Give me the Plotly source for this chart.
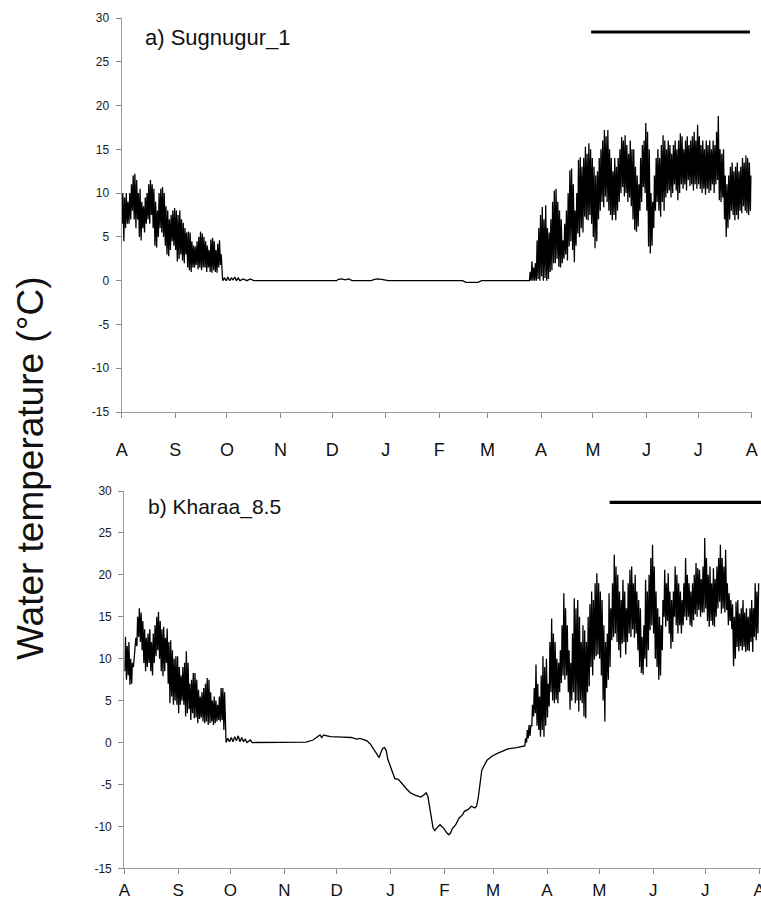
import pandas as pd
import plotly.graph_objects as go

W, H = 761, 899
START = pd.Timestamp("2012-08-01")

month_ticks = ["2012-08-01", "2012-09-01", "2012-10-01", "2012-11-01", "2012-12-01",
               "2013-01-01", "2013-02-01", "2013-03-01", "2013-04-01", "2013-05-01",
               "2013-06-01", "2013-07-01", "2013-08-01"]
month_labels = ["A", "S", "O", "N", "D", "J", "F", "M", "A", "M", "J", "J", "A"]
y_ticks = [-15, -10, -5, 0, 5, 10, 15, 20, 25, 30]
y_tick_labels = ["-15", "-10", "-5", "0", "5", "10", "15", "20", "25", "30"]

# ---------------- Panel a) Sugnugur_1 ----------------
# late summer: daily max / min from 2012-08-01 (day 0)
a_p1_start = 0
a_p1_hi = [10.0, 9.5, 10.0, 9.0, 10.0, 11.0, 12.0, 12.2, 11.5, 10.0,
           10.5, 9.0, 8.5, 9.5, 10.0, 11.0, 11.5, 11.0, 10.5, 9.0,
           8.0, 10.0, 10.5, 10.7, 10.0, 8.5, 8.0, 7.0, 7.5, 8.0,
           8.3, 8.0, 7.5, 8.0, 7.0, 6.6, 6.0, 5.5, 5.6, 5.5,
           4.5, 4.0, 3.9, 4.5, 5.0, 5.6, 5.4, 5.0, 4.5, 4.0,
           3.5, 4.7, 4.9, 4.5, 3.5, 4.2, 4.6, 3.0]
a_p1_lo = [6.5, 4.5, 6.0, 6.5, 6.5, 7.0, 8.0, 7.0, 6.0, 7.0,
           5.0, 4.6, 6.0, 5.5, 6.5, 7.0, 6.5, 7.5, 6.0, 4.0,
           3.8, 5.0, 6.0, 5.5, 5.0, 4.0, 3.0, 2.8, 3.5, 4.5,
           4.0, 3.5, 2.2, 2.5, 3.0, 2.3, 2.0, 3.0, 1.5, 1.2,
           1.0, 1.5, 1.5, 1.8, 1.3, 1.5, 1.2, 1.5, 1.5, 1.0,
           1.5, 1.0, 0.9, 1.2, 1.0, 0.9, 1.5, 1.8]
# winter (ice-covered) readings: day offset, value
a_w_day = [58, 59, 60, 61, 62, 63, 64, 65, 66, 67, 68, 70, 72, 74, 76, 78,
           124, 125, 127, 129, 131, 133, 144, 146, 148, 150, 152, 154,
           197, 199, 206, 208, 235]
a_w_val = [0.0, 0.3, 0.0, 0.4, 0.0, 0.3, 0.1, 0.4, 0.0, 0.3, 0.0, 0.2, 0.0, 0.2, 0.0, 0.0,
           0.0, 0.15, 0.2, 0.1, 0.2, 0.0, 0.0, 0.15, 0.2, 0.15, 0.1, 0.0,
           0.0, -0.2, -0.2, 0.0, 0.0]
# spring / summer: daily max / min from day 236
a_p2_start = 236
a_p2_hi = [1.0, 2.2, 1.5, 2.0, 4.6, 6.0, 7.5, 8.4, 7.0, 8.6,
           6.0, 5.5, 7.0, 9.0, 10.3, 10.5, 9.0, 8.0, 7.0, 4.6,
           6.5, 8.0, 10.0, 12.6, 12.8, 11.0, 8.0, 10.0, 13.8, 14.1,
           13.0, 14.0, 15.3, 14.5, 15.7, 15.0, 14.0, 13.0, 12.0, 12.5,
           14.0, 15.0, 16.0, 17.2, 16.5, 17.2, 15.0, 14.0, 12.5, 14.0,
           13.0, 14.0, 15.0, 16.4, 16.0, 16.6, 15.5, 14.5, 16.0, 15.0,
           15.0, 13.0, 12.0, 11.0, 14.0, 15.5, 16.0, 18.0, 17.0, 15.0,
           10.0, 9.0, 12.0, 14.0, 15.0, 14.0, 15.5, 16.6, 16.0, 15.0,
           16.0, 15.5, 14.5, 15.5, 16.0, 15.0, 16.0, 16.8, 16.5, 15.0,
           16.0, 16.5, 15.5, 16.0, 16.5, 17.0, 16.0, 17.8, 16.5, 15.5,
           16.0, 15.0, 16.0, 15.5, 16.0, 15.0, 16.0, 15.5, 17.0, 18.8,
           15.0, 14.5, 15.0, 12.0, 11.0, 12.0, 13.0, 13.5, 12.5, 13.0,
           13.5, 12.5, 13.0, 14.0, 13.5, 14.3, 14.0, 13.5, 12.0]
a_p2_lo = [0.0, 0.0, 0.0, 0.0, 0.0, 0.2, 0.0, 0.5, 0.0, 0.3,
           0.0, 0.2, 1.0, 1.2, 2.0, 2.0, 2.5, 1.6, 1.5, 2.0,
           2.5, 3.0, 2.3, 3.9, 4.5, 3.5, 2.1, 4.0, 5.4, 5.0,
           6.0, 5.5, 7.3, 7.0, 6.9, 7.5, 6.5, 5.0, 3.7, 4.5,
           7.0, 8.0, 9.0, 8.4, 9.6, 9.0, 8.0, 7.5, 6.9, 7.5,
           6.9, 8.0, 9.0, 10.0, 10.7, 9.6, 10.0, 9.0, 9.5, 8.5,
           7.0, 5.8, 5.6, 6.2, 8.0, 9.0, 10.7, 10.0, 8.0, 3.9,
           3.1, 4.0, 6.0, 8.0, 9.0, 8.0, 7.3, 9.0, 8.0, 9.5,
           10.0, 10.3, 9.5, 10.0, 11.0, 10.3, 9.2, 10.0, 11.0, 10.5,
           11.0, 10.3, 11.5, 10.8, 11.0, 10.3, 11.0, 10.5, 11.0, 10.5,
           10.0, 10.5, 9.8, 10.5, 10.0, 10.3, 11.0, 10.0, 11.0, 11.5,
           9.2, 9.0, 9.5, 7.0, 5.0, 6.0, 7.0, 8.0, 7.5, 6.9,
           7.5, 7.0, 8.0, 7.7, 8.5, 8.0, 7.7, 7.5, 8.0]

# ---------------- Panel b) Kharaa_8.5 ----------------
b_p1_start = 0
b_p1_hi = [12.6, 11.5, 12.0, 10.0, 9.5, 10.0, 12.5, 15.0, 16.0, 15.5,
           14.5, 13.5, 12.5, 13.0, 13.5, 12.0, 13.0, 14.0, 15.0, 15.6,
           14.5, 13.5, 13.8, 12.5, 13.6, 12.0, 12.2, 11.0, 10.0, 10.3,
           10.3, 9.0, 8.0, 9.0, 9.5, 10.9, 9.5, 7.0, 7.5, 8.3,
           8.3, 7.5, 6.3, 5.5, 6.0, 6.5, 7.0, 7.7, 7.5, 6.0,
           5.0, 5.5, 5.0, 4.5, 5.5, 6.5, 6.5, 6.0]
b_p1_lo = [8.5, 7.5, 8.0, 6.9, 7.0, 9.0, 10.5, 11.5, 12.6, 12.0,
           11.0, 9.5, 8.5, 9.0, 9.5, 8.5, 8.0, 9.5, 10.3, 11.0,
           10.0, 8.5, 7.9, 8.5, 9.5, 7.0, 4.7, 5.5, 4.5, 5.0,
           4.5, 3.5, 4.5, 5.0, 4.5, 3.1, 3.5, 4.0, 2.7, 3.5,
           2.9, 3.0, 2.3, 2.8, 3.0, 2.5, 2.3, 2.5, 2.1, 2.3,
           2.5, 2.1, 2.3, 2.5, 2.7, 2.5, 2.7, 1.5]
b_w_day = [58, 59, 60, 61, 62, 63, 64, 65, 66, 67, 68, 69, 70, 72, 73, 85, 100,
           104, 108, 111, 112, 113, 114, 116, 118, 125, 130, 133, 135, 137, 139,
           141, 143, 145, 146, 147, 148, 149, 150, 151, 153, 155, 157, 158, 160,
           162, 164, 167, 170, 172, 173, 174, 175, 176, 177, 178, 179, 181, 183,
           185, 186, 187, 188, 190, 192, 194, 195, 197, 199, 201, 202, 203, 204,
           205, 208, 211, 214, 220, 225, 229]
b_w_val = [0.0, 0.5, 0.1, 0.6, 0.1, 0.7, 0.2, 0.8, 0.1, 0.6, 0.1, 0.4, 0.0, 0.3, 0.0, 0.0, 0.0,
           0.05, 0.3, 0.7, 0.9, 0.6, 0.9, 0.8, 0.7, 0.65, 0.6, 0.4, 0.5, 0.35, 0.2,
           -0.2, -0.9, -1.5, -1.8, -1.2, -0.7, -0.6, -0.9, -2.0, -3.1, -4.3, -4.4, -4.6, -5.1,
           -5.6, -6.0, -6.3, -6.5, -6.2, -6.0, -6.4, -7.8, -9.0, -10.2, -10.5, -10.2, -9.8, -10.2,
           -10.8, -11.0, -10.8, -10.3, -9.8, -9.0, -8.6, -8.2, -8.0, -7.6, -7.8, -7.6, -6.5, -5.0,
           -3.3, -2.1, -1.6, -1.3, -0.75, -0.6, -0.4]
b_p2_start = 230
b_p2_hi = [0.5, 1.5, 2.1, 2.0, 4.5, 6.5, 9.3, 7.0, 5.5, 8.0,
           10.3, 9.0, 10.0, 7.0, 12.0, 14.8, 13.0, 12.0, 10.0, 9.5,
           11.0, 14.0, 17.8, 16.0, 14.0, 11.0, 9.5, 13.0, 17.2, 16.0,
           17.0, 15.0, 12.0, 14.0, 13.4, 12.0, 15.0, 16.5, 18.0, 17.0,
           19.0, 20.2, 19.0, 18.0, 17.0, 14.0, 12.0, 13.0, 17.8, 16.0,
           19.0, 22.4, 21.0, 20.0, 18.0, 17.0, 19.4, 18.0, 16.0, 19.0,
           20.6, 21.0, 19.0, 20.0, 18.0, 17.0, 16.0, 12.6, 14.0, 19.4,
           18.0, 20.0, 22.0, 23.6, 21.0, 18.0, 16.0, 15.0, 14.0, 17.0,
           20.6, 19.0, 20.2, 18.0, 17.0, 18.0, 21.0, 20.0, 19.0, 18.0,
           17.0, 19.0, 22.0, 20.0, 19.0, 18.0, 19.0, 20.0, 21.4, 20.8,
           20.6, 19.5, 21.0, 24.4, 22.0, 20.0, 21.0, 19.0, 20.8, 19.5,
           21.0, 22.0, 23.6, 22.0, 21.0, 23.0, 19.0, 17.8, 17.0, 16.5,
           15.0, 16.8, 17.0, 15.4, 16.0, 17.0, 15.5, 16.0, 15.0, 16.0,
           17.0, 16.0, 19.0, 18.0, 19.0]
b_p2_lo = [-0.4, 0.0, 0.5, 0.8, 2.0, 3.1, 3.5, 2.0, 1.5, 0.7,
           1.5, 0.7, 2.0, 3.0, 4.3, 6.0, 5.0, 4.7, 5.1, 4.7,
           6.0, 7.1, 8.0, 7.5, 8.0, 6.0, 3.9, 5.0, 6.0, 4.7,
           5.0, 3.7, 5.0, 4.7, 3.1, 2.9, 6.0, 6.7, 9.0, 8.0,
           9.9, 10.3, 10.5, 10.0, 8.0, 5.0, 2.5, 6.5, 7.5, 9.0,
           12.2, 12.6, 13.0, 12.0, 11.0, 10.1, 11.8, 12.0, 10.5, 12.0,
           13.0, 12.6, 13.5, 12.5, 13.0, 11.0, 9.0, 8.3, 8.1, 10.0,
           9.0, 11.0, 13.4, 14.0, 13.0, 10.0, 9.0, 7.5, 8.0, 11.0,
           15.0, 13.8, 14.5, 13.0, 11.2, 12.0, 15.0, 14.0, 13.0, 14.0,
           13.0, 14.0, 15.0, 14.6, 15.0, 14.0, 13.8, 14.6, 15.3, 15.0,
           15.8, 15.0, 15.5, 15.5, 16.0, 14.5, 13.8, 14.5, 14.0, 13.8,
           15.0, 16.0, 16.8, 15.4, 16.0, 15.5, 15.8, 14.0, 14.5, 13.5,
           9.1, 10.0, 11.4, 10.9, 11.5, 11.0, 11.4, 10.8, 11.0, 10.9,
           12.0, 10.8, 12.6, 12.2, 13.0]

# period bars (start, end, level)
a_bar = ["2013-04-30", "2013-07-31", 28.4]
b_bar = ["2013-05-07", "2013-08-02", 28.65]


def build(p1_start, p1_hi, p1_lo, w_day, w_val, p2_start, p2_hi, p2_lo):
    t, v = [], []
    for i, (h, l) in enumerate(zip(p1_hi, p1_lo)):
        d = p1_start + i
        t += [d + 0.25, d + 0.65]
        v += [l, h]
    for d, val in zip(w_day, w_val):
        t.append(d + 0.5)
        v.append(val)
    for i, (h, l) in enumerate(zip(p2_hi, p2_lo)):
        d = p2_start + i
        t += [d + 0.25, d + 0.65]
        v += [l, h]
    dates = START + pd.to_timedelta(t, unit="D")
    return dates, v


ta, va = build(a_p1_start, a_p1_hi, a_p1_lo, a_w_day, a_w_val, a_p2_start, a_p2_hi, a_p2_lo)
tb, vb = build(b_p1_start, b_p1_hi, b_p1_lo, b_w_day, b_w_val, b_p2_start, b_p2_hi, b_p2_lo)

FONT = "Arial, Liberation Sans, sans-serif"
fig = go.Figure()
fig.add_trace(go.Scatter(x=ta, y=va, mode="lines", line=dict(color="black", width=1.3),
                         xaxis="x", yaxis="y", hoverinfo="skip"))
fig.add_trace(go.Scatter(x=tb, y=vb, mode="lines", line=dict(color="black", width=1.3),
                         xaxis="x2", yaxis="y2", hoverinfo="skip"))
fig.add_trace(go.Scatter(x=a_bar[:2], y=[a_bar[2]] * 2, mode="lines",
                         line=dict(color="black", width=3.2), xaxis="x", yaxis="y"))
fig.add_trace(go.Scatter(x=b_bar[:2], y=[b_bar[2]] * 2, mode="lines",
                         line=dict(color="black", width=3.2), xaxis="x2", yaxis="y2"))


def px_x(p):
    return p / W


def px_y(p):
    return 1 - p / H


xcommon = dict(type="date", tickvals=month_ticks, ticktext=month_labels, ticks="outside",
               ticklen=5, tickcolor="#8a8a8a", showline=True, linecolor="#9a9a9a", linewidth=1.3,
               showgrid=False, zeroline=False, automargin=False, ticklabeloverflow="allow",
               tickfont=dict(family=FONT, size=18, color="#111"))
ycommon = dict(range=[-15, 30], tickvals=y_ticks, ticktext=y_tick_labels, ticks="outside",
               ticklen=5, tickcolor="#8a8a8a", showline=True, linecolor="#9a9a9a", linewidth=1.3,
               showgrid=False, zeroline=False, automargin=False,
               tickfont=dict(family=FONT, size=12, color="#1a1a1a"))

fig.update_layout(
    template="none",
    width=W, height=H, margin=dict(l=0, r=0, t=0, b=0, autoexpand=False),
    paper_bgcolor="white", plot_bgcolor="white", showlegend=False,
    xaxis=dict(xcommon, domain=[px_x(121.7), px_x(751.7)], anchor="y",
               range=["2012-08-01", "2013-08-01"], ticklabelstandoff=16),
    yaxis=dict(ycommon, domain=[px_y(412), px_y(18)], anchor="x", ticklabelstandoff=4),
    xaxis2=dict(xcommon, domain=[px_x(124.3), 1.0], anchor="y2",
                range=["2012-08-01", "2013-08-02"], ticklabelstandoff=1,
                tickfont=dict(family=FONT, size=17, color="#111")),
    yaxis2=dict(ycommon, domain=[px_y(868.3), px_y(491)], anchor="x2", ticklabelstandoff=4),
    annotations=[
        dict(text="a) Sugnugur_1", x=px_x(142.7), y=px_y(38), xref="paper", yref="paper",
             xanchor="left", yanchor="middle", showarrow=False,
             font=dict(family=FONT, size=22, color="#111")),
        dict(text="b) Kharaa_8.5", x=px_x(146), y=px_y(506.7), xref="paper", yref="paper",
             xanchor="left", yanchor="middle", showarrow=False,
             font=dict(family=FONT, size=21, color="#111")),
        dict(text="Water temperature (°C)", x=px_x(31), y=px_y(468), xref="paper", yref="paper",
             xanchor="center", yanchor="middle", textangle=-90, showarrow=False,
             font=dict(family=FONT, size=37, color="#111")),
    ],
)

fig.write_html("out.html")
